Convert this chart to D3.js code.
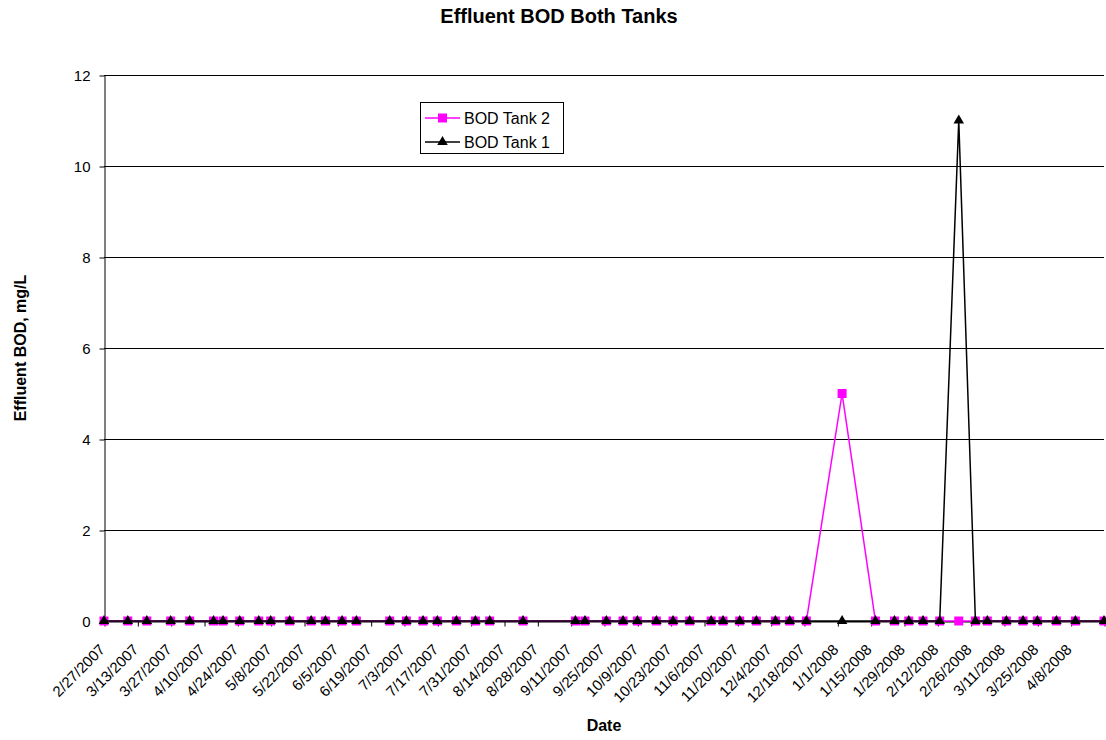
<!DOCTYPE html>
<html>
<head>
<meta charset="utf-8">
<script src="https://cdn.jsdelivr.net/npm/d3@7"></script>
<style>
  body { margin: 0; background: #fff; }
  text { font-family: "Liberation Sans", Arial, sans-serif; fill: #000; }
</style>
</head>
<body>
<div id="chart"></div>
<script>
/* sample dates, one lab result per tank on each */
const sampleDates = [
  '2/27/2007', '3/9/2007', '3/17/2007', '3/27/2007', '4/4/2007', '4/14/2007', '4/18/2007',
  '4/25/2007', '5/3/2007', '5/8/2007', '5/16/2007', '5/25/2007', '5/31/2007', '6/7/2007',
  '6/13/2007', '6/27/2007', '7/4/2007', '7/11/2007', '7/17/2007', '7/25/2007', '8/2/2007',
  '8/8/2007', '8/22/2007', '9/13/2007', '9/17/2007', '9/26/2007', '10/3/2007', '10/9/2007',
  '10/17/2007', '10/24/2007', '10/31/2007', '11/9/2007', '11/14/2007', '11/21/2007', '11/28/2007',
  '12/6/2007', '12/12/2007', '12/19/2007', '1/3/2008', '1/17/2008', '1/25/2008', '1/31/2008',
  '2/6/2008', '2/13/2008', '2/21/2008', '2/28/2008', '3/4/2008', '3/12/2008', '3/19/2008',
  '3/25/2008', '4/2/2008', '4/10/2008', '4/22/2008'
]
const tank2 = [
  0, 0, 0, 0, 0, 0, 0,
  0, 0, 0, 0, 0, 0, 0,
  0, 0, 0, 0, 0, 0, 0,
  0, 0, 0, 0, 0, 0, 0,
  0, 0, 0, 0, 0, 0, 0,
  0, 0, 0, 5, 0, 0, 0,
  0, 0, 0, 0, 0, 0, 0,
  0, 0, 0, 0
]
const tank1 = [
  0, 0, 0, 0, 0, 0, 0,
  0, 0, 0, 0, 0, 0, 0,
  0, 0, 0, 0, 0, 0, 0,
  0, 0, 0, 0, 0, 0, 0,
  0, 0, 0, 0, 0, 0, 0,
  0, 0, 0, 0, 0, 0, 0,
  0, 0, 11, 0, 0, 0, 0,
  0, 0, 0, 0
]
const xTickLabels = [
  '2/27/2007', '3/13/2007', '3/27/2007', '4/10/2007', '4/24/2007', '5/8/2007', '5/22/2007',
  '6/5/2007', '6/19/2007', '7/3/2007', '7/17/2007', '7/31/2007', '8/14/2007', '8/28/2007',
  '9/11/2007', '9/25/2007', '10/9/2007', '10/23/2007', '11/6/2007', '11/20/2007', '12/4/2007',
  '12/18/2007', '1/1/2008', '1/15/2008', '1/29/2008', '2/12/2008', '2/26/2008', '3/11/2008',
  '3/25/2008', '4/8/2008'
]
const axisEnd = '4/22/2008'
const yTicks = [0, 2, 4, 6, 8, 10, 12]

const width = 1106
const height = 740
const plot = { left: 104, right: 1104, top: 75, bottom: 621 }

const parse = d3.utcParse('%m/%d/%Y')
const dates = sampleDates.map(parse)
const tickDates = xTickLabels.concat([axisEnd]).map(parse)

const series = [
  { name: 'BOD Tank 2', values: tank2, color: '#ff00ff', symbol: d3.symbolSquare, size: 81 },
  { name: 'BOD Tank 1', values: tank1, color: '#000000', symbol: d3.symbolTriangle, size: 48 }
]

const x = d3.scaleUtc()
  .domain([tickDates[0], tickDates[tickDates.length - 1]])
  .range([plot.left, plot.right])

const y = d3.scaleLinear()
  .domain([0, 12])
  .range([plot.bottom, plot.top])

const svg = d3.select('#chart')
  .append('svg')
  .attr('width', width)
  .attr('height', height)

// horizontal gridlines
svg.append('g')
  .selectAll('line')
  .data(yTicks)
  .enter()
  .append('line')
  .attr('x1', plot.left)
  .attr('x2', plot.right)
  .attr('y1', (d) => Math.round(y(d)) + 0.5)
  .attr('y2', (d) => Math.round(y(d)) + 0.5)
  .attr('stroke', '#000')
  .attr('stroke-width', 1)

// y axis
const yAxis = svg.append('g')
  .attr('transform', `translate(${plot.left + 0.5}, 0.5)`)
  .call(d3.axisLeft(y).tickValues(yTicks).tickSize(5).tickSizeOuter(0).tickPadding(9))
yAxis.selectAll('text').style('font-size', '15px')
yAxis.select('.domain').attr('stroke', '#000')

// x axis, rotated date labels; last tick is left without a label
const xAxis = svg.append('g')
  .attr('transform', `translate(0.5, ${Math.round(plot.bottom) + 0.5})`)
  .call(d3.axisBottom(x)
    .tickValues(tickDates)
    .tickSize(5)
    .tickSizeOuter(0)
    .tickFormat((d, i) => xTickLabels[i] || ''))
xAxis.selectAll('text')
  .attr('x', 0)
  .attr('y', 0)
  .attr('dy', 0)
  .attr('text-anchor', 'end')
  .attr('transform', 'translate(1, 29) rotate(-45)')
  .style('font-size', '15px')

// series lines, tank 2 first so tank 1 sits on top
const line = d3.line()
  .x((d) => x(d[0]))
  .y((d) => y(d[1]))

series.forEach((s) => {
  const pts = dates.map((d, i) => [d, s.values[i]])
  const g = svg.append('g')
  g.append('path')
    .attr('d', line(pts))
    .attr('fill', 'none')
    .attr('stroke', s.color)
    .attr('stroke-width', 1.5)
  g.selectAll('path.marker')
    .data(pts)
    .enter()
    .append('path')
    .attr('class', 'marker')
    .attr('d', d3.symbol(s.symbol, s.size))
    .attr('transform', (d) => `translate(${x(d[0])}, ${y(d[1])})`)
    .attr('fill', s.color)
})

// legend
const legend = svg.append('g')
legend.append('rect')
  .attr('x', 420.5)
  .attr('y', 102.5)
  .attr('width', 143)
  .attr('height', 51)
  .attr('fill', '#fff')
  .attr('stroke', '#000')

series.forEach((s, i) => {
  const ly = 118 + i * 24
  legend.append('line')
    .attr('x1', 425)
    .attr('x2', 460)
    .attr('y1', ly)
    .attr('y2', ly)
    .attr('stroke', s.color)
    .attr('stroke-width', 1.5)
  legend.append('path')
    .attr('d', d3.symbol(s.symbol, s.size))
    .attr('transform', `translate(442.5, ${ly})`)
    .attr('fill', s.color)
  legend.append('text')
    .attr('x', 464)
    .attr('y', ly)
    .attr('dy', '0.35em')
    .style('font-size', '16px')
    .text(s.name)
})

// titles
svg.append('text')
  .attr('x', 559)
  .attr('y', 23)
  .attr('text-anchor', 'middle')
  .style('font-size', '20px')
  .style('font-weight', 'bold')
  .text('Effluent BOD Both Tanks')

svg.append('text')
  .attr('x', 604)
  .attr('y', 731)
  .attr('text-anchor', 'middle')
  .style('font-size', '16px')
  .style('font-weight', 'bold')
  .text('Date')

svg.append('text')
  .attr('transform', `translate(26, ${(plot.top + plot.bottom) / 2}) rotate(-90)`)
  .attr('text-anchor', 'middle')
  .style('font-size', '16px')
  .style('font-weight', 'bold')
  .text('Effluent BOD, mg/L')
</script>
</body>
</html>
